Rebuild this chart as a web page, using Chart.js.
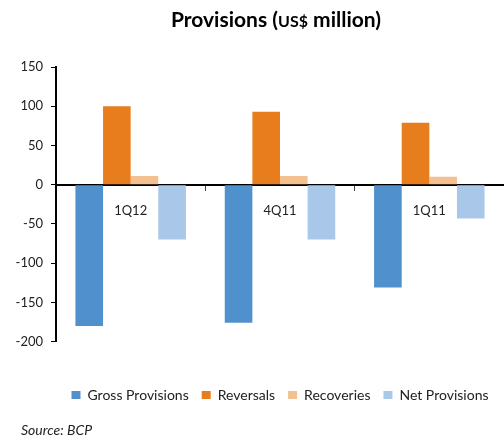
<!DOCTYPE html>
<html>
<head>
<meta charset="utf-8">
<script src="https://cdn.jsdelivr.net/npm/chart.js"></script>
<style>
  html, body { margin: 0; padding: 0; background: #fff; }
  #wrap { position: relative; width: 504px; height: 437px; }
</style>
</head>
<body>
<div id="wrap"><canvas id="provisions"></canvas></div>
<script>
const categories = ['1Q12', '4Q11', '1Q11'];
const grossProvisions = [-180, -176, -131];
const reversals = [100, 93, 79];
const recoveries = [11, 11, 10];
const netProvisions = [-70, -70, -43];
const seriesNames = ['Gross Provisions', 'Reversals', 'Recoveries', 'Net Provisions'];
const yMin = -200;
const yMax = 150;
const yStep = 50;

const FONT = 'Lato, "Open Sans", sans-serif';

// title with the smaller "US$" part, plus the source line at the bottom
const textPlugin = {
  id: 'extraText',
  afterDraw(chart) {
    const ctx = chart.ctx;
    const parts = [
      ['Provisions (', 'bold 21px ' + FONT],
      ['US$', 'bold 16px ' + FONT],
      [' million)', 'bold 21px ' + FONT],
    ];
    ctx.save();
    let total = 0;
    parts.forEach(p => { ctx.font = p[1]; total += ctx.measureText(p[0]).width; });
    let x = 276 - total / 2;
    ctx.fillStyle = '#000';
    ctx.textBaseline = 'alphabetic';
    parts.forEach(p => {
      ctx.font = p[1];
      ctx.fillText(p[0], x, 27);
      x += ctx.measureText(p[0]).width;
    });
    ctx.font = 'italic 14px ' + FONT;
    ctx.fillStyle = '#222';
    ctx.textBaseline = 'middle';
    ctx.fillText('Source: BCP', 21, 430);
    ctx.restore();
  }
};

const data = {
  labels: categories,
  datasets: [
    { label: seriesNames[0], data: grossProvisions, backgroundColor: 'rgb(80, 145, 205)' },
    { label: seriesNames[1], data: reversals, backgroundColor: 'rgb(232, 125, 30)' },
    { label: seriesNames[2], data: recoveries, backgroundColor: 'rgb(244, 192, 144)' },
    { label: seriesNames[3], data: netProvisions, backgroundColor: 'rgb(169, 199, 232)' },
  ],
};

const config = {
  type: 'bar',
  data: data,
  options: {
    responsive: true,
    maintainAspectRatio: false,
    animation: false,
    datasets: {
      bar: { categoryPercentage: 0.74, barPercentage: 1.0, borderWidth: 0 }
    },
    layout: { padding: { top: 67, left: 0, right: -6, bottom: 25 } },
    scales: {
      x: {
        position: { y: 0 },
        z: 1,
        grid: { drawOnChartArea: false, drawTicks: true, tickLength: 5, color: '#444', lineWidth: 1 },
        border: { color: '#000', width: 2 },
        ticks: { color: '#222', padding: 13, font: { family: FONT, size: 13 } },
      },
      y: {
        min: yMin,
        max: yMax,
        z: 1,
        afterFit(scale) { scale.width = 56; },
        grid: { drawOnChartArea: false, drawTicks: true, tickLength: 5, color: '#000', lineWidth: 1 },
        border: { color: '#000', width: 2 },
        ticks: { stepSize: yStep, color: '#222', padding: 8, font: { family: FONT, size: 13 } },
      },
    },
    plugins: {
      tooltip: { enabled: false },
      legend: {
        position: 'bottom',
        fullSize: false,
        title: { display: true, text: ' ', font: { size: 12 }, padding: 9.5 },
        labels: {
          boxWidth: 9,
          boxHeight: 8,
          padding: 13,
          color: '#222',
          font: { family: FONT, size: 14 },
        },
      },
    },
  },
  plugins: [textPlugin],
};

const chart = new Chart(document.getElementById('provisions'), config);
</script>
</body>
</html>
